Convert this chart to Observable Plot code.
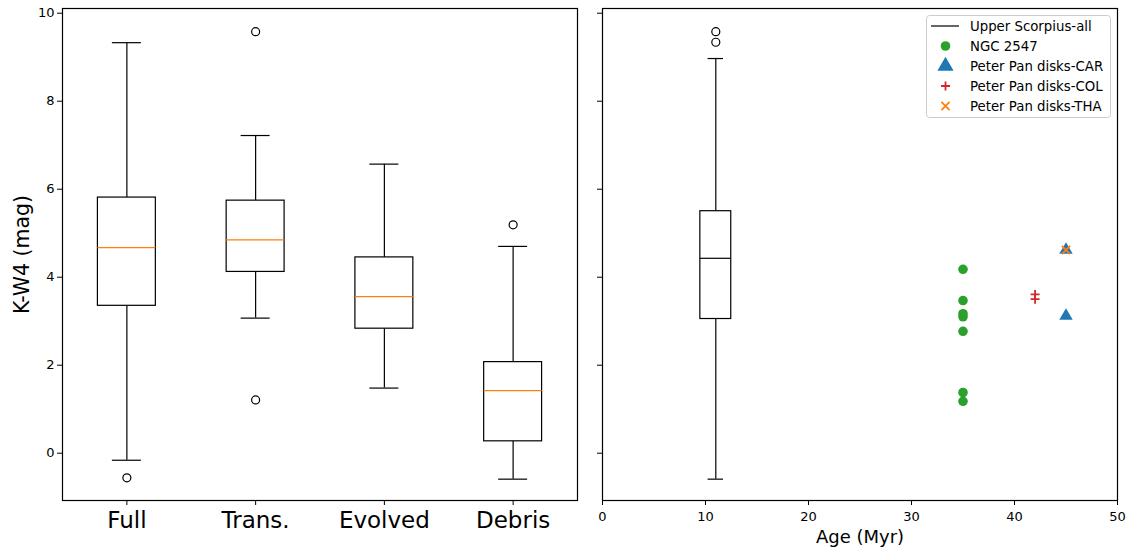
<!DOCTYPE html>
<html><head><meta charset="utf-8">
<script src="https://cdn.jsdelivr.net/npm/d3@7"></script>
<script src="https://cdn.jsdelivr.net/npm/@observablehq/plot@0.6"></script>
<style>
body{margin:0;background:#fff;}
#wrap{position:relative;width:1130px;height:552px;font-family:"DejaVu Sans",sans-serif;background:#fff;}
#left,#right,#legend{position:absolute;top:0;}
#left{left:0;} #right{left:590px;}
#legend{left:926px;top:15px;}
</style></head><body><div id="wrap"><div id="left"></div><div id="right"></div><div id="legend"></div></div>
<script>
// ---- data ----
const categories = ["Full", "Trans.", "Evolved", "Debris"];
const whiskerLow = [-0.16, 3.07, 1.48, -0.59];
const q1 = [3.35, 4.12, 2.83, 0.27];
const median = [4.67, 4.85, 3.56, 1.42];
const q3 = [5.81, 5.74, 4.45, 2.07];
const whiskerHigh = [9.33, 7.22, 6.57, 4.70];
const outlierCategory = ["Full", "Trans.", "Trans.", "Debris"];
const outlierValue = [-0.56, 9.58, 1.21, 5.19];

const uscoAge = 11;
const uscoLow = -0.59, uscoQ1 = 3.05, uscoMedian = 4.43, uscoQ3 = 5.50, uscoHigh = 8.97;
const uscoOutliers = [9.58, 9.34];

const ngcAge = 35;
const ngcValues = [4.18, 3.47, 3.17, 3.10, 2.77, 1.38, 1.18];
const colAge = 42;
const colValues = [3.61, 3.50];
const carAge = 45;
const carValues = [4.62, 3.12];
const thaAge = 45;
const thaValues = [4.62];

const yTicks = [0, 2, 4, 6, 8, 10];
const ageTicks = [0, 10, 20, 30, 40, 50];
const legendLabels = ["Upper Scorpius-all", "NGC 2547", "Peter Pan disks-CAR", "Peter Pan disks-COL", "Peter Pan disks-THA"];

// ---- derived tables ----
const boxes = categories.map((c, i) => ({pos: i + 1, cat: c, lo: whiskerLow[i], q1: q1[i], med: median[i], q3: q3[i], hi: whiskerHigh[i]}));
const outliers = outlierCategory.map((c, i) => ({pos: categories.indexOf(c) + 1, v: outlierValue[i]}));
const usco = [{pos: uscoAge, lo: uscoLow, q1: uscoQ1, med: uscoMedian, q3: uscoQ3, hi: uscoHigh}];

const yDomain = [-1.075, 10.107];
const lw = 1.2;
const font = "DejaVu Sans";

function boxMarks(data, half, medColor) {
  return [
    Plot.ruleX(data, {x: "pos", y1: "lo", y2: "q1", stroke: "black", strokeWidth: lw}),
    Plot.ruleX(data, {x: "pos", y1: "q3", y2: "hi", stroke: "black", strokeWidth: lw}),
    Plot.rect(data, {x1: d => d.pos - half, x2: d => d.pos + half, y1: "q1", y2: "q3", fill: "white", stroke: "black", strokeWidth: lw}),
    Plot.ruleY(data, {y: "med", x1: d => d.pos - half, x2: d => d.pos + half, stroke: medColor, strokeWidth: lw}),
    Plot.ruleY(data, {y: "lo", x1: d => d.pos - half / 2, x2: d => d.pos + half / 2, stroke: "black", strokeWidth: lw}),
    Plot.ruleY(data, {y: "hi", x1: d => d.pos - half / 2, x2: d => d.pos + half / 2, stroke: "black", strokeWidth: lw})
  ];
}

const left = Plot.plot({
  width: 590, height: 552,
  marginLeft: 62, marginRight: 13, marginTop: 8, marginBottom: 52,
  style: {fontFamily: font, background: "white", overflow: "visible"},
  x: {domain: [0.5, 4.5]},
  y: {domain: yDomain},
  marks: [
    ...boxMarks(boxes, 0.225, "#ff7f0e"),
    Plot.dot(outliers, {x: "pos", y: "v", r: 4, stroke: "black", fill: "none", strokeWidth: lw}),
    Plot.frame({stroke: "black", strokeWidth: lw}),
    Plot.axisX({ticks: [1, 2, 3, 4], tickFormat: i => categories[i - 1], tickSize: 5, tickPadding: 6, fontSize: 23, label: null, stroke: "black"}),
    Plot.axisY({ticks: yTicks, tickSize: 5, tickPadding: 3, fontSize: 13, label: null}),
    Plot.text(["K-W4 (mag)"], {text: d => d, frameAnchor: "left", rotate: -90, dx: -40.5, fontSize: 20.5, textAnchor: "middle", lineAnchor: "middle", fill: "black"})
  ]
});
document.getElementById("left").appendChild(left);

const right = Plot.plot({
  width: 540, height: 552,
  marginLeft: 12, marginRight: 13, marginTop: 8, marginBottom: 52,
  style: {fontFamily: font, background: "white", overflow: "visible"},
  x: {domain: [0, 50]},
  y: {domain: yDomain},
  marks: [
    ...boxMarks(usco, 1.5, "black"),
    Plot.dot(uscoOutliers, {x: () => uscoAge, y: d => d, r: 4, stroke: "black", fill: "none", strokeWidth: lw}),
    Plot.dot(ngcValues, {x: () => ngcAge, y: d => d, r: 4.8, fill: "#2ca02c"}),
    Plot.dot(colValues, {x: () => colAge, y: d => d, r: 3, symbol: "plus", stroke: "#d62728", fill: "none", strokeWidth: 1.8}),
    Plot.dot(carValues, {x: () => carAge, y: d => d, r: 5, symbol: "triangle", fill: "#1f77b4"}),
    Plot.dot(thaValues, {x: () => thaAge, y: d => d, r: 3.8, symbol: "times", stroke: "#ff7f0e", fill: "none", strokeWidth: 1.8}),
    Plot.frame({stroke: "black", strokeWidth: lw}),
    Plot.axisX({ticks: ageTicks, tickSize: 5, tickPadding: 6, fontSize: 13, label: null}),
    Plot.axisY({ticks: yTicks, tickSize: 5, tickFormat: () => "", label: null}),
    Plot.text(["Age (Myr)"], {text: d => d, frameAnchor: "bottom", dy: 42, lineAnchor: "bottom", fontSize: 18, fill: "black"})
  ]
});
document.getElementById("right").appendChild(right);

// ---- legend ----
const lgW = 184, lgH = 102;
const lg = d3.select("#legend").append("svg").attr("width", lgW + 2).attr("height", lgH + 2)
  .style("font-family", font).style("overflow", "visible");
lg.append("rect").attr("x", 0.5).attr("y", 0.5).attr("width", lgW).attr("height", lgH).attr("rx", 3)
  .attr("fill", "rgba(255,255,255,0.8)").attr("stroke", "#cccccc");
const rowY = i => 11 + i * 20;
const mx = 19.5;
lg.append("line").attr("x1", 5).attr("x2", 33).attr("y1", rowY(0)).attr("y2", rowY(0)).attr("stroke", "black").attr("stroke-width", lw);
lg.append("circle").attr("cx", mx).attr("cy", rowY(1)).attr("r", 4.8).attr("fill", "#2ca02c");
lg.append("path").attr("transform", `translate(${mx},${rowY(2)})`).attr("d", d3.symbol(d3.symbolTriangle, Math.PI * 36)()).attr("fill", "#1f77b4");
lg.append("path").attr("transform", `translate(${mx},${rowY(3)})`).attr("d", d3.symbol(d3.symbolPlus, Math.PI * 9)()).attr("fill", "none").attr("stroke", "#d62728").attr("stroke-width", 1.8);
lg.append("path").attr("transform", `translate(${mx},${rowY(4)})`).attr("d", d3.symbol(d3.symbolTimes, Math.PI * 14.4)()).attr("fill", "none").attr("stroke", "#ff7f0e").attr("stroke-width", 1.8);
lg.selectAll("text.lab").data(legendLabels).join("text").attr("class", "lab")
  .attr("x", 44).attr("y", (d, i) => rowY(i)).attr("dy", "0.35em").attr("font-size", 13.3).attr("fill", "black").text(d => d);
</script></body></html>
